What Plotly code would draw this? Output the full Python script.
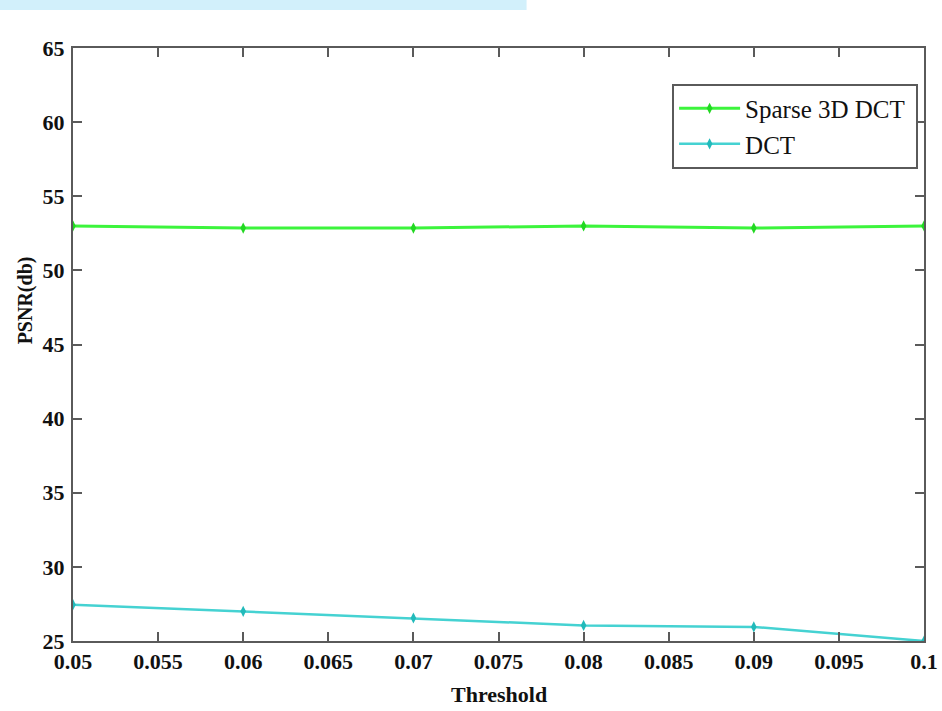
import plotly.graph_objects as go

thresholds = [0.05, 0.06, 0.07, 0.08, 0.09, 0.1]
sparse_3d_dct = [53.0, 52.85, 52.85, 53.0, 52.85, 53.0]
dct = [27.45, 27.0, 26.55, 26.05, 25.95, 25.0]

x_ticks = [0.05, 0.055, 0.06, 0.065, 0.07, 0.075, 0.08, 0.085, 0.09, 0.095, 0.1]
x_tick_labels = ["0.05", "0.055", "0.06", "0.065", "0.07", "0.075", "0.08", "0.085", "0.09", "0.095", "0.1"]
y_ticks = [25, 30, 35, 40, 45, 50, 55, 60, 65]
series_names = ["Sparse 3D DCT\u00a0", "DCT"]

serif = "Liberation Serif, Times New Roman, serif"
axis_col = "#5a5a5a"

fig = go.Figure()
fig.add_trace(go.Scatter(
    x=thresholds, y=sparse_3d_dct, name=series_names[0], mode="lines+markers",
    line=dict(color="#3CF43C", width=3),
    marker=dict(symbol="diamond-tall", size=8, color="#22D822"),
))
fig.add_trace(go.Scatter(
    x=thresholds, y=dct, name=series_names[1], mode="lines+markers",
    line=dict(color="#45D2D2", width=2.5),
    marker=dict(symbol="diamond-tall", size=8, color="#22BABA"),
))

axis_common = dict(
    showgrid=False, zeroline=False, showline=True, linecolor=axis_col, linewidth=2,
    mirror="allticks", ticks="inside", ticklen=9, tickwidth=1.5, tickcolor=axis_col,
    tickfont=dict(family=serif, size=22, color="#111111", weight="bold"),
    automargin=False,
)

fig.update_layout(
    width=942, height=711,
    margin=dict(l=73, r=18, t=48, b=70),
    paper_bgcolor="white", plot_bgcolor="white",
    xaxis=dict(range=[0.05, 0.1], tickvals=x_ticks, ticktext=x_tick_labels, **axis_common),
    yaxis=dict(range=[25, 65], tickvals=y_ticks, ticklabelstandoff=2, **axis_common),
    showlegend=True,
    legend=dict(
        x=0.704, y=0.94, xanchor="left", yanchor="top",
        bgcolor="white", bordercolor=axis_col, borderwidth=2,
        font=dict(family=serif, size=25, color="#111111"),
        itemwidth=61, tracegroupgap=0,
    ),
    annotations=[
        dict(text="PSNR(db)", textangle=-90, xref="paper", yref="paper",
             x=-0.056, y=0.575, showarrow=False, xanchor="center", yanchor="middle",
             font=dict(family=serif, size=20, color="#111111", weight="bold")),
        dict(text="Threshold", xref="paper", yref="paper",
             x=0.5, y=-0.091, showarrow=False, xanchor="center", yanchor="middle",
             font=dict(family=serif, size=22, color="#111111", weight="bold")),
    ],
    shapes=[dict(
        type="rect", xref="paper", yref="paper", x0=-0.0858, x1=0.533, y0=1.064, y1=1.081,
        fillcolor="#D2F0FB", line=dict(width=0), layer="below",
    )],
)

fig.write_html("out.html", config={"displayModeBar": False},
               post_script="document.body.style.margin='0';document.body.style.overflow='hidden';")
